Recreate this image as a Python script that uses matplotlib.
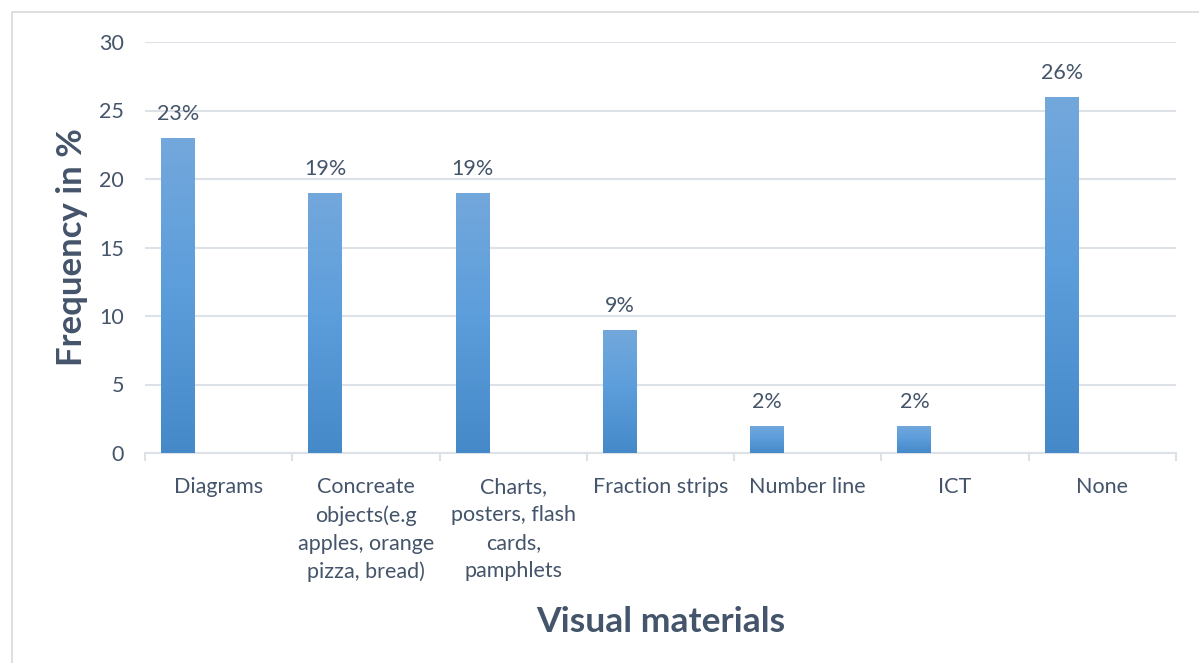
import numpy as np
import matplotlib.pyplot as plt
from matplotlib.colors import LinearSegmentedColormap
from matplotlib.patches import Rectangle

categories = ["Diagrams", "Concreate\nobjects(e.g\napples, orange\npizza, bread)",
              "Charts,\nposters, flash\ncards,\npamphlets", "Fraction strips",
              "Number line", "ICT", "None"]
values = [23, 19, 19, 9, 2, 2, 26]
labels = ["23%", "19%", "19%", "9%", "2%", "2%", "26%"]

text_col = "#44546A"
grid_col = "#DDE2E8"
plt.rcParams['font.family'] = ['Lato', 'DejaVu Sans']

fig = plt.figure(figsize=(11.99, 6.63), dpi=100)
ax = fig.add_axes([145 / 1199, 1 - 453 / 663, (1176 - 145) / 1199, (453 - 42) / 663])

# outer chart border
fig.patches.append(Rectangle((12 / 1199, -0.1), 1.2, 0.1 + 1 - 12 / 663,
                             transform=fig.transFigure, fill=False,
                             edgecolor="#D9D9D9", linewidth=1.2))

x = np.arange(len(categories))
offset = -0.276
width = 0.23
bars = ax.bar(x + offset, values, width=width, color="#5B9BD5", zorder=2)

cmap = LinearSegmentedColormap.from_list("g", ["#4689C8", "#5B9DDB", "#73A8DC"])
grad = np.linspace(0, 1, 256).reshape(-1, 1)
for b in bars:
    x0, w, h = b.get_x(), b.get_width(), b.get_height()
    im = ax.imshow(grad, cmap=cmap, origin="lower", aspect="auto",
                   extent=[x0, x0 + w, 0, h], zorder=3)
    im.set_clip_path(b)

for b, lab in zip(bars, labels):
    ax.annotate(lab, xy=(b.get_x() + b.get_width() / 2, b.get_height()),
                xytext=(0, 10), textcoords="offset points", ha="center", va="bottom",
                fontsize=15.5, color=text_col)

ax.set_xlim(-0.5, len(categories) - 0.5)
ax.set_ylim(0, 30)
ax.set_yticks(range(0, 31, 5))
ax.set_xticks(x)
ax.set_xticklabels(categories, fontsize=15.5, color=text_col, linespacing=1.5, va="top")
ax.set_xticks(np.arange(len(categories) + 1) - 0.5, minor=True)
ax.tick_params(axis="x", which="major", length=0, pad=17)
ax.tick_params(axis="x", which="minor", length=6, color=grid_col, width=1.5)
ax.tick_params(axis="y", length=0, labelsize=15.5, labelcolor=text_col, pad=15)
ax.grid(axis="y", color=grid_col, linewidth=1.5, zorder=0)
ax.set_axisbelow(True)
for s in ["top", "right", "left"]:
    ax.spines[s].set_visible(False)
ax.spines["bottom"].set_color(grid_col)
ax.spines["bottom"].set_linewidth(1.5)

ax.set_ylabel("Frequency in %", fontsize=25, fontweight="bold", color=text_col, labelpad=8)
ax.set_xlabel("Visual materials", fontsize=25.5, fontweight="bold", color=text_col, labelpad=17)

fig.savefig("out.png", dpi=100)
